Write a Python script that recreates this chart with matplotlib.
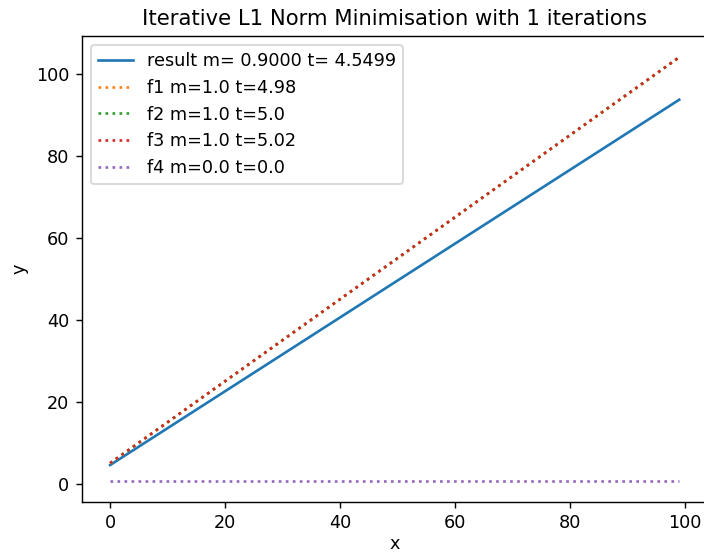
import numpy as np
import matplotlib
matplotlib.use("Agg")
import matplotlib.pyplot as plt

# fitted line and the input lines (slope m, intercept t)
x = np.arange(100)
result_m = 0.9000
result_t = 4.5499
names = ["f1", "f2", "f3", "f4"]
f_m = [1.0, 1.0, 1.0, 0.0]
f_t = [4.98, 5.0, 5.02, 0.0]
n_iter = 1

# flat line is lifted a little so it stays visible above zero
flat_lift = 0.7

dpi = 127
fig = plt.figure(figsize=(704 / dpi, 555 / dpi), dpi=dpi)
ax = fig.add_axes([81.7 / 704, 53 / 555, 626 / 704, 466 / 555])

ax.plot(x, result_m * x + result_t,
        label="result m= {:.4f} t= {:.4f}".format(result_m, result_t))
for name, m, t in zip(names, f_m, f_t):
    y = m * x + t
    if m == 0.0:
        y = y + flat_lift
    ax.plot(x, y, ":", label="{} m={} t={}".format(name, m, t))

ax.set_title("Iterative L1 Norm Minimisation with {} iterations".format(n_iter))
ax.set_xlabel("x", labelpad=1.5)
ax.set_ylabel("y")
ax.legend(loc="upper left")

fig.savefig("out.png", dpi=dpi)
